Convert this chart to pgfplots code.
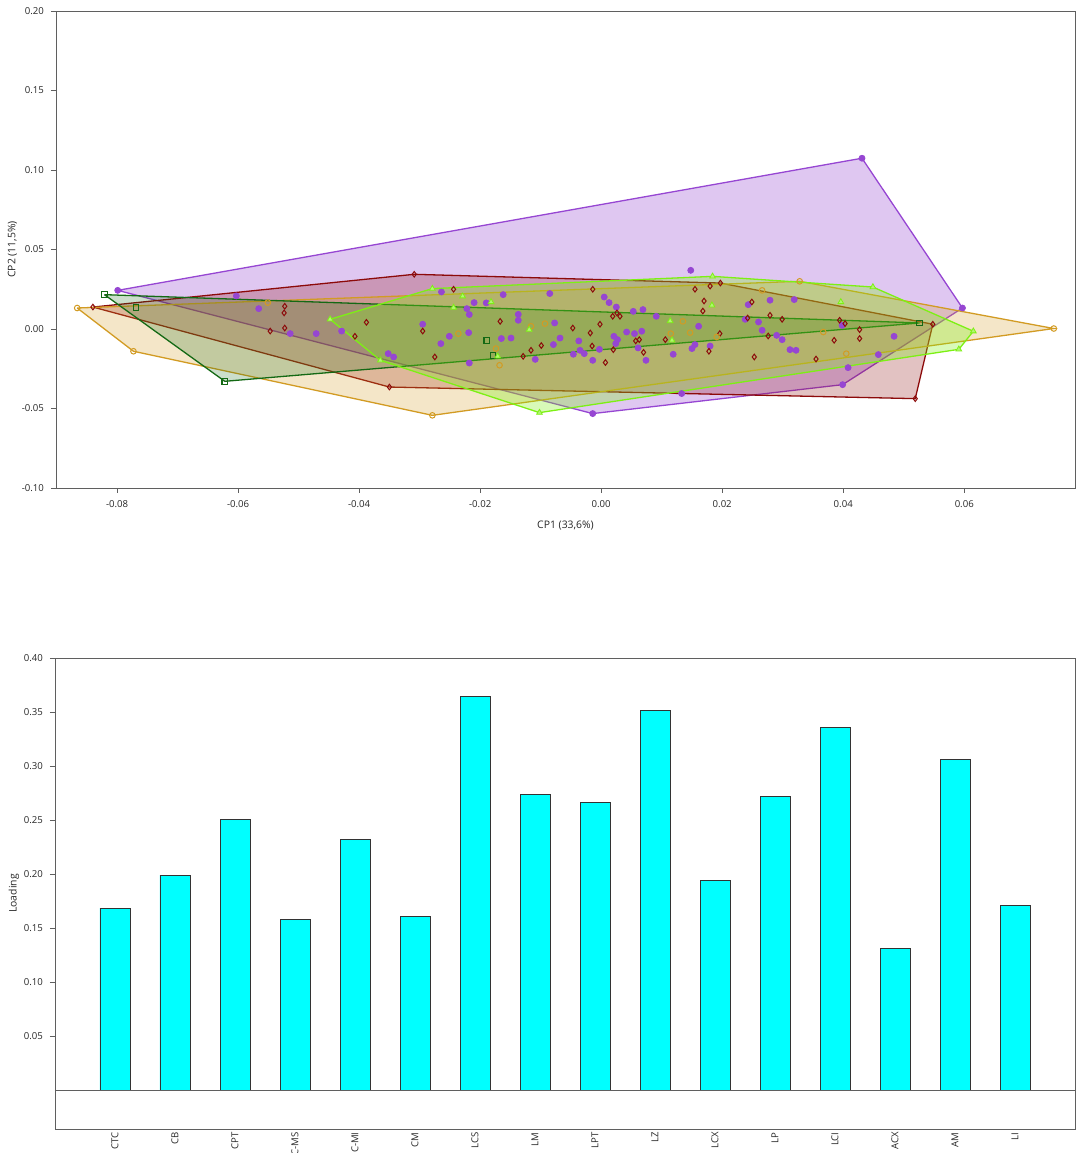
\documentclass[border=0pt]{standalone}
\usepackage{pgfplots}
\pgfplotsset{compat=1.18}
\usepackage{fontspec}
\setmainfont{Open Sans}
\definecolor{cpurple}{RGB}{150,70,210}
\definecolor{cred}{RGB}{140,10,10}
\definecolor{corange}{RGB}{210,155,35}
\definecolor{cdgreen}{RGB}{20,105,20}
\definecolor{clgreen}{RGB}{125,240,20}
\definecolor{axgray}{RGB}{95,95,95}
\definecolor{ccyan}{RGB}{0,255,255}
\begin{document}
\begin{tikzpicture}
\begin{scope}[xshift=28pt, yshift=332.5pt]
\begin{axis}[
  scale only axis,
  width=509.5pt, height=238.5pt,
  axis line style={axgray, line width=0.45pt},
  tick style={axgray, line width=0.45pt},
  major tick length=2.5pt, tick align=outside,
  xtick pos=left, ytick pos=left,
  scaled ticks=false,
  tick label style={font=\fontsize{4.8}{5.3}\selectfont, text=black!85},
  label style={font=\fontsize{5.2}{6}\selectfont, text=black!85},
  ylabel shift=-4.5pt,
  xmin=-0.0901, xmax=0.0783, ymin=-0.10, ymax=0.20,
  xtick={-0.08,-0.06,-0.04,-0.02,0,0.02,0.04,0.06},
  xticklabels={-0.08,-0.06,-0.04,-0.02,0.00,0.02,0.04,0.06},
  ytick={-0.10,-0.05,0,0.05,0.10,0.15,0.20},
  yticklabels={-0.10,-0.05,0.00,0.05,0.10,0.15,0.20},
  xlabel={CP1 (33,6\%)}, ylabel={CP2 (11,5\%)},
]
\addplot[draw=cpurple, line width=0.65pt, fill=cpurple, fill opacity=0.3] coordinates {
(-0.0799,0.0243) (0.0431,0.1074) (0.0597,0.0132) (0.0399,-0.0350) (-0.0014,-0.0532) (-0.0799,0.0243)};
\addplot[draw=cred, line width=0.65pt, fill=cred, fill opacity=0.25] coordinates {
(-0.0840,0.0138) (-0.0309,0.0344) (0.0197,0.0289) (0.0548,0.0030) (0.0519,-0.0438) (-0.0350,-0.0365) (-0.0840,0.0138)};
\addplot[draw=corange, line width=0.65pt, fill=corange, fill opacity=0.25] coordinates {
(-0.0866,0.0132) (0.0328,0.0300) (0.0748,0.0003) (-0.0279,-0.0543) (-0.0773,-0.0140) (-0.0866,0.0132)};
\addplot[draw=cdgreen, line width=0.65pt, fill=cdgreen, fill opacity=0.22] coordinates {
(-0.0821,0.0216) (0.0526,0.0038) (-0.0622,-0.0329) (-0.0821,0.0216)};
\addplot[draw=clgreen, line width=0.65pt, fill=clgreen, fill opacity=0.3] coordinates {
(-0.0448,0.0061) (-0.0279,0.0254) (0.0184,0.0331) (0.0449,0.0264) (0.0615,-0.0014) (0.0591,-0.0128) (-0.0102,-0.0526) (-0.0365,-0.0197) (-0.0448,0.0061)};
\addplot[only marks, mark=*, mark size=1.5pt, color=cpurple] coordinates {
(-0.0799,0.0243) (0.0431,0.1074) (0.0597,0.0132) (0.0399,-0.0350) (-0.0014,-0.0532) (-0.0603,0.0208) (-0.0566,0.0128) (-0.0514,-0.0029)
(-0.0471,-0.0029) (-0.0429,-0.0013) (-0.0352,-0.0155) (-0.0343,-0.0176) (-0.0264,0.0233) (-0.0162,0.0216) (-0.0085,0.0223) (-0.0210,0.0166)
(-0.0190,0.0164) (-0.0222,0.0128) (-0.0218,0.0091) (-0.0137,0.0092) (-0.0137,0.0055) (-0.0295,0.0030) (-0.0077,0.0038) (-0.0251,-0.0046)
(-0.0219,-0.0023) (-0.0165,-0.0060) (-0.0149,-0.0057) (-0.0068,-0.0057) (-0.0265,-0.0092) (-0.0079,-0.0098) (-0.0037,-0.0075) (-0.0035,-0.0134)
(-0.0028,-0.0155) (-0.0046,-0.0159) (-0.0003,-0.0128) (-0.0014,-0.0197) (-0.0109,-0.0191) (-0.0218,-0.0214) (0.0005,0.0201) (0.0013,0.0166)
(0.0025,0.0138) (0.0021,-0.0046) (0.0027,-0.0067) (0.0024,-0.0092) (0.0042,-0.0019) (0.0055,-0.0029) (0.0067,-0.0014) (0.0053,0.0111)
(0.0069,0.0122) (0.0091,0.0080) (0.0061,-0.0119) (0.0074,-0.0197) (0.0119,-0.0159) (0.0148,0.0369) (0.0150,-0.0123) (0.0155,-0.0098)
(0.0180,-0.0107) (0.0133,-0.0406) (0.0243,0.0153) (0.0238,0.0061) (0.0260,0.0044) (0.0161,0.0017) (0.0279,0.0181) (0.0319,0.0185)
(0.0266,-0.0008) (0.0290,-0.0040) (0.0299,-0.0067) (0.0312,-0.0130) (0.0322,-0.0134) (0.0398,0.0023) (0.0484,-0.0046) (0.0458,-0.0161)
(0.0408,-0.0243)};
\addplot[only marks, mark=diamond, mark size=1.4pt, color=cred, line width=0.5pt] coordinates {
(-0.0840,0.0138) (-0.0309,0.0344) (-0.0350,-0.0365) (-0.0523,0.0143) (-0.0524,0.0101) (-0.0547,-0.0013) (-0.0523,0.0006) (-0.0388,0.0042)
(-0.0407,-0.0046) (-0.0244,0.0250) (-0.0295,-0.0013) (-0.0167,0.0048) (-0.0275,-0.0176) (-0.0129,-0.0172) (-0.0116,-0.0134) (-0.0099,-0.0104)
(-0.0047,0.0006) (-0.0018,-0.0025) (-0.0002,0.0030) (-0.0014,0.0250) (-0.0015,-0.0107) (0.0007,-0.0211) (0.0020,-0.0130) (0.0019,0.0080)
(0.0026,0.0101) (0.0031,0.0080) (0.0057,-0.0075) (0.0063,-0.0067) (0.0070,-0.0147) (0.0106,-0.0067) (0.0155,0.0250) (0.0180,0.0270)
(0.0197,0.0289) (0.0170,0.0176) (0.0168,0.0113) (0.0196,-0.0029) (0.0178,-0.0140) (0.0253,-0.0176) (0.0249,0.0170) (0.0242,0.0069)
(0.0279,0.0086) (0.0299,0.0061) (0.0276,-0.0044) (0.0394,0.0055) (0.0403,0.0034) (0.0427,-0.0004) (0.0385,-0.0071) (0.0427,-0.0060)
(0.0355,-0.0189) (0.0548,0.0030) (0.0519,-0.0438)};
\addplot[only marks, mark=o, mark size=1.4pt, color=corange, line width=0.5pt] coordinates {
(-0.0866,0.0132) (-0.0773,-0.0140) (-0.0551,0.0166) (-0.0236,-0.0029) (-0.0116,0.0017) (-0.0093,0.0034) (-0.0174,-0.0123) (-0.0168,-0.0228)
(-0.0279,-0.0543) (0.0135,0.0048) (0.0147,-0.0023) (0.0115,-0.0029) (0.0191,-0.0050) (0.0328,0.0300) (0.0266,0.0243) (0.0367,-0.0019)
(0.0405,-0.0155) (0.0748,0.0003)};
\addplot[only marks, mark=square, mark size=1.4pt, color=cdgreen, line width=0.55pt] coordinates {
(-0.0821,0.0216) (-0.0769,0.0135) (-0.0622,-0.0329) (-0.0189,-0.0071) (-0.0179,-0.0167) (0.0526,0.0038)};
\addplot[only marks, mark=triangle*, mark size=1.65pt, color=clgreen, fill=clgreen!60, line width=0.4pt] coordinates {
(-0.0448,0.0061) (-0.0365,-0.0197) (-0.0279,0.0254) (-0.0229,0.0206) (-0.0244,0.0135) (-0.0182,0.0170) (-0.0119,-0.0004) (-0.0171,-0.0172)
(-0.0102,-0.0526) (0.0114,0.0050) (0.0117,-0.0071) (0.0184,0.0331) (0.0183,0.0149) (0.0449,0.0264) (0.0396,0.0170) (0.0615,-0.0014)
(0.0591,-0.0128)};
\end{axis}
\end{scope}
\begin{scope}[xshift=27.5pt, yshift=12pt]
\begin{axis}[
  scale only axis,
  width=510pt, height=235.5pt,
  axis line style={axgray, line width=0.45pt},
  tick style={axgray, line width=0.45pt},
  major tick length=2.5pt, tick align=outside,
  xtick pos=left, ytick pos=left,
  scaled ticks=false,
  tick label style={font=\fontsize{4.8}{5.3}\selectfont, text=black!85},
  label style={font=\fontsize{5.2}{6}\selectfont, text=black!85},
  ylabel shift=-4.5pt,
  xmin=-1, xmax=16, ymin=-0.036, ymax=0.40,
  ytick={0.05,0.10,0.15,0.20,0.25,0.30,0.35,0.40},
  yticklabels={0.05,0.10,0.15,0.20,0.25,0.30,0.35,0.40},
  xtick={0,1,2,3,4,5,6,7,8,9,10,11,12,13,14,15},
  xticklabels={CTC,CB,CPT,C-MS,C-MI,CM,LCS,LM,LPT,LZ,LCX,LP,LCI,ACX,AM,LI},
  xticklabel style={rotate=90, anchor=east, inner sep=0.5pt},
  xticklabel shift=-1.5pt,
  major x tick style={draw=none},
  ylabel={Loading},
]
\addplot[ybar, bar width=15pt, fill=ccyan, draw=black!80, line width=0.4pt] coordinates {
(0,0.1685) (1,0.1990) (2,0.2505) (3,0.1577) (4,0.2318) (5,0.1605) (6,0.3642) (7,0.2734)
(8,0.2660) (9,0.3512) (10,0.1938) (11,0.2716) (12,0.3355) (13,0.1308) (14,0.3060) (15,0.1707)};
\addplot[axgray, line width=0.45pt] coordinates {(-1,0) (16,0)};
\end{axis}
\end{scope}
\pgfresetboundingbox
\path[use as bounding box] (0pt,0pt) rectangle (539pt,576.5pt);
\end{tikzpicture}
\end{document}
